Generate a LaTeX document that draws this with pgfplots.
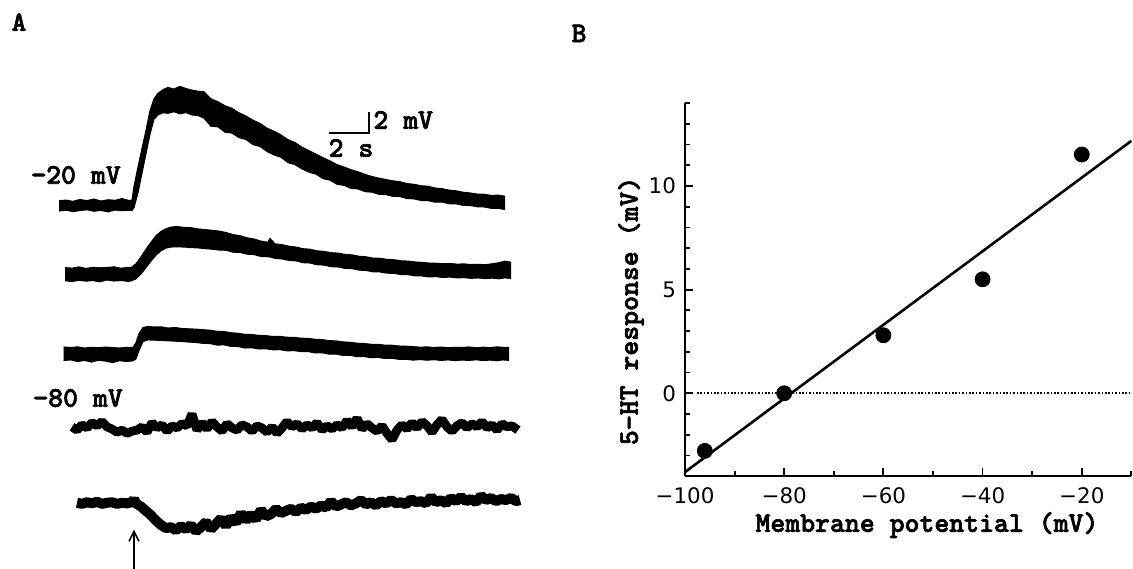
\documentclass[border=0pt]{standalone}
\usepackage{fontspec}
\usepackage{pgfplots}
\usepackage{pgfplotstable}
\pgfplotsset{compat=1.18}
\usepgfplotslibrary{fillbetween}
\usetikzlibrary{arrows.meta}
\newfontfamily\tickfont{DejaVu Sans}
\newfontfamily\labfont{lmmonolt10-bold.otf}[FakeBold=2.2]
\newcommand\lab{\labfont\fontsize{14.2bp}{16bp}\selectfont}

% Voltage traces: time (s) from 5-HT application, mV relative to each baseline.
% Envelopes (lo, hi) of the recorded band for the three depolarising traces.
\pgfplotstableread{
t lo hi
-3.75 -0.50 0.45
-3.40 -0.42 0.52
-3.05 -0.55 0.40
-2.70 -0.45 0.58
-2.35 -0.38 0.47
-2.00 -0.52 0.62
-1.65 -0.44 0.43
-1.30 -0.58 0.55
-0.95 -0.40 0.50
-0.60 -0.47 0.66
-0.25 -0.43 0.48
-0.10 -0.45 0.52
0.00 -0.20 1.80
0.20 1.20 3.60
0.40 3.00 5.30
0.60 4.80 7.00
0.80 6.60 8.80
1.00 8.00 9.90
1.20 8.40 10.40
1.45 8.60 10.75
1.70 8.55 10.95
2.00 8.70 10.80
2.30 8.50 11.05
2.60 8.62 10.85
2.90 8.40 10.70
3.20 8.35 10.60
3.50 8.10 10.55
3.85 7.35 9.90
4.20 7.30 9.62
4.55 6.80 9.25
4.90 6.72 9.02
5.25 6.30 8.60
5.60 6.12 8.30
5.95 5.65 7.92
6.30 5.48 7.62
6.65 5.02 7.18
7.00 4.70 6.90
7.35 4.48 6.55
7.70 3.98 6.12
8.05 3.80 5.85
8.40 3.40 5.42
8.75 3.10 5.10
9.10 2.92 4.78
9.45 2.50 4.45
9.80 2.36 4.15
10.15 1.98 3.80
10.50 1.88 3.58
10.85 1.60 3.33
11.20 1.55 3.14
11.55 1.30 2.90
11.90 1.25 2.70
12.25 1.05 2.55
12.60 1.02 2.42
12.95 0.86 2.30
13.30 0.84 2.22
13.65 0.66 2.05
14.00 0.63 1.98
14.35 0.48 1.85
14.70 0.47 1.80
15.05 0.32 1.64
15.40 0.33 1.58
15.75 0.18 1.44
16.10 0.17 1.38
16.45 0.03 1.25
16.80 0.02 1.18
17.15 -0.10 1.08
17.50 -0.12 1.06
17.85 -0.24 0.95
18.20 -0.25 0.98
18.55 -0.35 0.88
}\traceA

\pgfplotstableread{
t lo hi
-3.45 -0.62 0.60
-3.10 -0.70 0.55
-2.75 -0.58 0.66
-2.40 -0.66 0.52
-2.05 -0.60 0.63
-1.70 -0.72 0.58
-1.35 -0.55 0.61
-1.00 -0.65 0.67
-0.65 -0.60 0.54
-0.30 -0.68 0.62
-0.15 -0.64 0.60
0.10 -0.45 0.95
0.35 0.00 1.60
0.60 0.60 2.30
0.85 1.20 2.95
1.10 1.75 3.55
1.35 2.15 3.95
1.60 2.40 4.20
1.85 2.50 4.35
2.15 2.52 4.40
2.50 2.50 4.32
2.85 2.45 4.30
3.20 2.42 4.18
3.55 2.35 4.12
3.90 2.30 4.05
4.25 2.22 3.98
4.60 2.20 3.85
4.95 2.02 3.66
5.30 2.00 3.55
5.65 1.84 3.36
6.00 1.80 3.25
6.35 1.62 3.05
6.70 1.60 2.95
6.80 1.58 3.30
7.05 1.45 2.80
7.40 1.40 2.72
7.75 1.26 2.58
8.10 1.22 2.50
8.45 1.05 2.35
8.80 1.02 2.30
9.15 0.86 2.15
9.50 0.83 2.10
9.85 0.68 1.98
10.20 0.66 1.94
10.55 0.52 1.82
10.90 0.50 1.78
11.25 0.36 1.65
11.60 0.33 1.60
11.95 0.20 1.48
12.30 0.19 1.46
12.65 0.08 1.36
13.00 0.06 1.33
13.35 -0.05 1.23
13.70 -0.06 1.20
14.05 -0.17 1.12
14.40 -0.18 1.08
14.75 -0.27 1.02
15.10 -0.24 1.00
15.45 -0.32 0.96
15.80 -0.28 0.98
16.15 -0.36 0.92
16.50 -0.33 0.94
16.85 -0.40 0.88
17.20 -0.36 0.90
17.55 -0.42 0.86
17.90 -0.38 0.95
18.25 -0.44 1.05
18.55 -0.35 1.20
18.85 -0.42 1.10
}\traceB

\pgfplotstableread{
t lo hi
-3.52 -0.62 0.65
-3.17 -0.55 0.60
-2.82 -0.70 0.66
-2.47 -0.60 0.55
-2.12 -0.75 0.62
-1.77 -0.58 0.58
-1.42 -0.66 0.64
-1.07 -0.80 0.60
-0.72 -0.62 0.55
-0.37 -0.70 0.62
-0.05 -0.64 0.60
0.10 -0.45 1.05
0.25 0.30 1.90
0.45 1.15 2.45
0.70 1.30 2.55
1.00 1.28 2.50
1.35 1.25 2.52
1.70 1.22 2.40
2.05 1.18 2.45
2.40 1.15 2.36
2.75 1.10 2.33
3.10 1.06 2.30
3.45 0.98 2.25
3.80 0.96 2.20
4.15 0.82 2.10
4.50 0.84 2.08
4.85 0.70 1.97
5.20 0.69 1.92
5.55 0.55 1.82
5.90 0.57 1.80
6.25 0.46 1.72
6.60 0.48 1.70
6.95 0.38 1.62
7.30 0.40 1.63
7.65 0.28 1.55
8.00 0.31 1.54
8.35 0.22 1.46
8.70 0.22 1.45
9.05 0.10 1.36
9.40 0.11 1.33
9.75 -0.02 1.24
10.10 -0.01 1.21
10.45 -0.14 1.12
10.80 -0.13 1.08
11.15 -0.25 1.00
11.50 -0.24 0.97
11.85 -0.35 0.90
12.20 -0.32 0.89
12.55 -0.42 0.82
12.90 -0.40 0.81
13.25 -0.50 0.74
13.60 -0.49 0.72
13.95 -0.57 0.68
14.30 -0.52 0.63
14.65 -0.58 0.66
15.00 -0.53 0.60
15.35 -0.60 0.64
15.70 -0.55 0.58
16.05 -0.62 0.62
16.40 -0.56 0.60
16.75 -0.60 0.65
17.10 -0.54 0.57
17.45 -0.61 0.63
17.80 -0.57 0.59
18.15 -0.63 0.66
18.45 -0.55 0.62
18.75 -0.60 0.60
}\traceC

% Trace at -80 mV (no response) and the hyperpolarising trace.
\pgfplotstableread{
t v
-3.10 0.1
-2.85 -0.2
-2.60 0.3
-2.35 0.0
-2.10 0.5
-1.85 0.2
-1.60 0.6
-1.35 0.1
-1.10 -0.1
-0.85 -0.4
-0.60 -0.2
-0.35 -0.5
-0.10 -0.3
0.15 -0.2
0.40 0.1
0.65 -0.4
0.90 0.5
1.15 0.0
1.40 0.3
1.65 -0.3
1.90 0.2
2.15 0.0
2.40 0.4
2.65 0.2
2.90 1.3
3.15 -0.2
3.40 0.5
3.65 -0.1
3.90 0.6
4.15 0.1
4.40 -0.3
4.65 0.4
4.90 0.0
5.15 -0.2
5.40 0.3
5.65 0.1
5.90 -0.3
6.15 0.2
6.40 0.0
6.65 -0.4
6.90 0.1
7.15 -0.5
7.40 0.0
7.65 0.6
7.90 0.1
8.15 0.4
8.40 -0.1
8.65 0.3
8.90 0.0
9.15 0.5
9.40 -0.2
9.65 0.2
9.90 -0.1
10.15 0.3
10.40 0.0
10.65 0.7
10.90 0.1
11.15 0.9
11.40 -0.1
11.65 0.4
11.90 0.0
12.15 -0.3
12.40 0.2
12.65 -0.5
12.90 -1.1
13.15 -0.2
13.40 0.3
13.65 -0.1
13.90 0.5
14.15 0.0
14.40 0.6
14.65 0.2
14.90 -0.4
15.15 0.3
15.40 0.8
15.65 0.1
15.90 -0.3
16.15 0.2
16.40 0.5
16.65 0.0
16.90 0.4
17.15 0.1
17.40 0.6
17.65 0.0
17.90 0.3
18.15 -0.2
18.40 0.4
18.65 0.1
18.90 0.2
19.20 -0.2
}\traceD

\pgfplotstableread{
t v
-2.85 0.05
-2.60 -0.05
-2.35 0.10
-2.10 0.00
-1.85 0.15
-1.60 -0.05
-1.35 0.05
-1.10 0.10
-0.85 -0.05
-0.60 0.05
-0.35 0.00
-0.10 0.10
0.00 0.40
0.10 0.00
0.35 -0.30
0.60 -0.70
0.85 -1.10
1.10 -1.60
1.35 -2.00
1.60 -2.30
1.85 -2.20
2.10 -2.50
2.35 -2.10
2.60 -2.40
2.85 -2.00
3.10 -2.60
3.35 -2.20
3.60 -1.70
3.85 -2.40
4.10 -1.90
4.35 -1.40
4.60 -2.10
4.85 -1.30
5.10 -1.80
5.35 -0.90
5.60 -1.60
5.85 -1.00
6.10 -1.50
6.35 -0.60
6.60 -1.20
6.85 -1.00
7.10 -0.50
7.35 -0.90
7.60 -0.70
7.85 -0.50
8.10 -0.80
8.35 -0.40
8.60 -0.60
8.85 -0.30
9.10 -0.50
9.35 -0.20
9.60 -0.40
9.85 0.20
10.10 -0.30
10.35 -0.10
10.60 0.10
10.85 -0.20
11.10 0.00
11.35 0.30
11.60 -0.10
11.85 0.10
12.10 -0.20
12.35 0.20
12.60 0.00
12.85 0.30
13.10 0.00
13.35 0.10
13.60 -0.10
13.85 0.40
14.10 0.10
14.35 0.20
14.60 0.00
14.85 0.60
15.10 0.10
15.35 0.30
15.60 0.00
15.85 0.50
16.10 0.20
16.35 0.60
16.60 0.20
16.85 0.40
17.10 0.10
17.35 0.70
17.60 0.30
17.85 0.50
18.10 0.20
18.35 0.40
18.60 0.30
18.85 0.50
19.10 0.20
19.30 0.30
}\traceE

% Peak 5-HT response against holding potential
\pgfplotstableread{
vm resp
-96 -2.78
-80 0.00
-60 2.80
-40 5.50
-20 11.52
}\ivdata

\begin{document}
\begin{tikzpicture}

% ---------------- Panel A: voltage traces ----------------
\begin{axis}[
  at={(0bp,0bp)}, anchor=south west,
  scale only axis, width=280bp, height=284.5bp,
  xmin=-6.7, xmax=21.3, ymin=0, ymax=52.685,
  hide axis, clip=false,
]
\addplot[draw=black, line width=0.5bp, name path=a1] table[x=t, y expr=\thisrow{hi}+33.64] {\traceA};
\addplot[draw=black, line width=0.5bp, name path=a2] table[x=t, y expr=\thisrow{lo}+33.64] {\traceA};
\addplot[black] fill between[of=a1 and a2];

\addplot[draw=black, line width=0.5bp, name path=b1] table[x=t, y expr=\thisrow{hi}+27.31] {\traceB};
\addplot[draw=black, line width=0.5bp, name path=b2] table[x=t, y expr=\thisrow{lo}+27.31] {\traceB};
\addplot[black] fill between[of=b1 and b2];

\addplot[draw=black, line width=0.5bp, name path=c1] table[x=t, y expr=\thisrow{hi}+19.91] {\traceC};
\addplot[draw=black, line width=0.5bp, name path=c2] table[x=t, y expr=\thisrow{lo}+19.91] {\traceC};
\addplot[black] fill between[of=c1 and c2];

\addplot[black, line width=4.4bp, line join=bevel] table[x=t, y expr=\thisrow{v}+13.06] {\traceD};
\addplot[black, line width=5.0bp, line join=bevel] table[x=t, y expr=\thisrow{v}+6.08] {\traceE};

% scale bar: 2 s, 2 mV
\draw[line width=1.1bp] (axis cs:9.75,40.34) -- (axis cs:11.75,40.34) -- (axis cs:11.75,42.34);
\node[anchor=west, inner sep=0pt] at (axis cs:11.95,41.57) {\lab 2 mV};
\node[inner sep=0pt] at (axis cs:10.85,38.98) {\lab 2 s};

\node[inner sep=0pt] at (axis cs:-2.9,36.48) {\lab −20 mV};
\node[inner sep=0pt] at (axis cs:-2.8,15.83) {\lab −80 mV};

% application of 5-HT
\draw[line width=0.8bp, -{Straight Barb[length=5bp,width=5bp]}] (axis cs:0,0) -- (axis cs:0,3.65);
\end{axis}

\node[inner sep=0pt] at (9.5bp,273.5bp) {\lab A};
\node[inner sep=0pt] at (289.5bp,267.8bp) {\lab B};

% ---------------- Panel B: response vs membrane potential ----------------
\begin{axis}[
  at={(342.5bp,46.4bp)}, anchor=south west,
  scale only axis, width=223.2bp, height=186.55bp,
  xmin=-100, xmax=-10, ymin=-4, ymax=14,
  axis x line*=bottom, axis y line*=left,
  axis line style={line width=1bp, -},
  tick align=inside,
  xtick={-100,-80,-60,-40,-20},
  xticklabels={−100,−80,−60,−40,−20},
  minor xtick={-90,-70,-50,-30,-10},
  ytick={0,5,10},
  yticklabels={0,5,10},
  minor ytick={-3,-2,-1,1,2,3,4,6,7,8,9,11,12,13,14},
  major tick length=4bp, minor tick length=2.6bp,
  every tick/.style={black, line width=0.9bp},
  ticklabel style={font=\tickfont\fontsize{10.7bp}{12bp}\selectfont},
  xticklabel style={yshift=-2bp},
  yticklabel style={xshift=-1bp},
  clip=false,
]
\addplot[black, line width=0.8bp, dash pattern=on 0.8bp off 0.9bp] coordinates {(-97.6,0) (-10,0)};
\addplot[black, line width=1.3bp] coordinates {(-100,-3.8) (-10,12.18)};
\addplot[only marks, mark=*, mark size=3.75bp, black] table[x=vm, y=resp] {\ivdata};
\node[rotate=90, inner sep=0pt] at (rel axis cs:-0.121,0.443) {\lab 5−HT response (mV)};
\node[inner sep=0pt] at (rel axis cs:0.542,-0.131) {\lab Membrane potential (mV)};
\end{axis}

% page: 566.5 x 284.5 bp
\pgfresetboundingbox
\path[use as bounding box] (0,0) rectangle (566.5bp,284.5bp);
\end{tikzpicture}
\end{document}
